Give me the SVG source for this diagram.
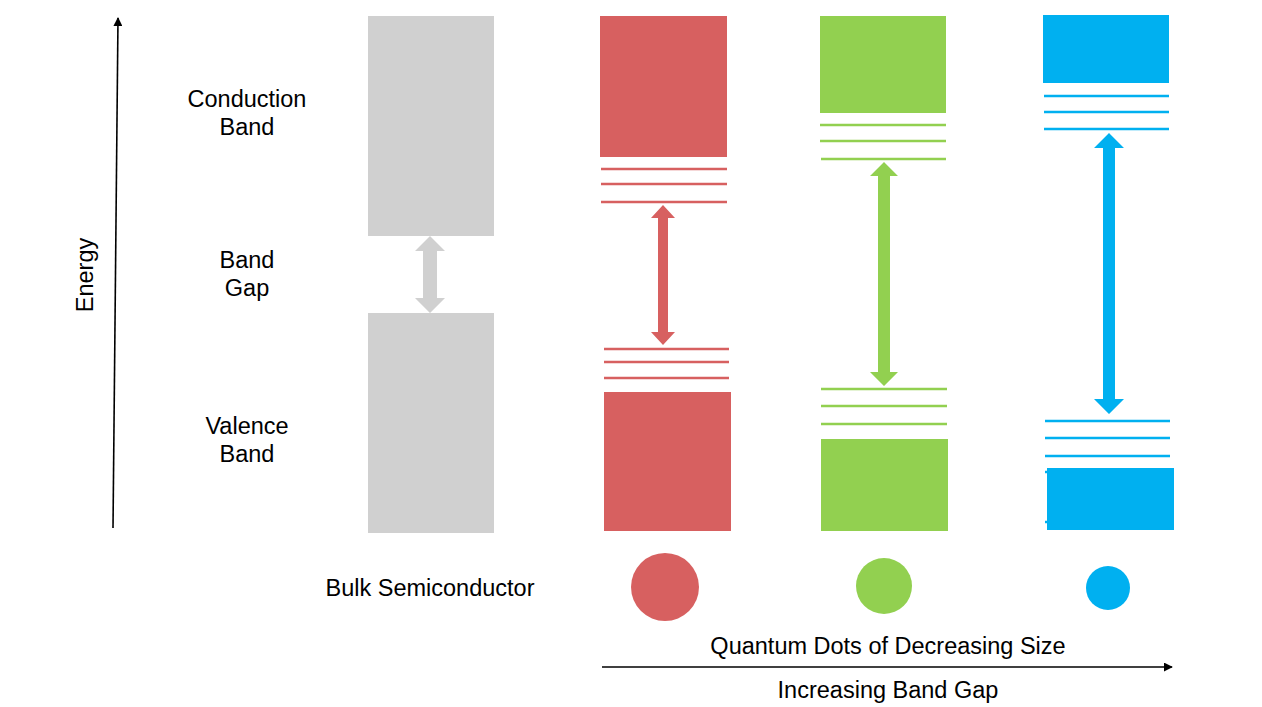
<svg xmlns="http://www.w3.org/2000/svg" width="1262" height="707" viewBox="0 0 1262 707">
<defs>
<marker id="ah" viewBox="0 0 10 10" refX="9" refY="5" markerWidth="9" markerHeight="9" markerUnits="userSpaceOnUse" orient="auto"><path d="M0,0 L10,5 L0,10 z" fill="#000"/></marker>
<style>
text{font-family:"Liberation Sans",Arial,sans-serif;font-size:23.5px;fill:#000;text-anchor:middle}
.red{fill:#d76060}.redl{stroke:#d76060;stroke-width:2.5}
.grn{fill:#92d050}.grnl{stroke:#92d050;stroke-width:2.5}
.blu{fill:#00b0f0}.blul{stroke:#00b0f0;stroke-width:2.5}
.gry{fill:#d0d0d0}
.ax{stroke:#000;stroke-width:1.6;fill:none}
</style>
</defs>
<rect width="1262" height="707" fill="#fff"/>
<g id="labels">
<text x="247" y="107">Conduction</text>
<text x="247" y="135">Band</text>
<text x="247" y="268">Band</text>
<text x="247" y="296">Gap</text>
<text x="247" y="434">Valence</text>
<text x="247" y="462">Band</text>
<text transform="translate(93,275) rotate(-90)">Energy</text>
<text x="430" y="596">Bulk Semiconductor</text>
<text x="888" y="654">Quantum Dots of Decreasing Size</text>
<text x="888" y="698">Increasing Band Gap</text>
</g>
<g id="bulk">
<rect class="gry" x="368" y="16" width="126" height="220"/>
<rect class="gry" x="368" y="313" width="126" height="220"/>
<polygon class="gry" points="430,236 445,251 437,251 437,298 445,298 430,313 415,298 423,298 423,251 415,251"/>
</g>
<g id="qd-red">
<rect class="red" x="600" y="16" width="127" height="141"/>
<line class="redl" x1="601" y1="169" x2="727" y2="169"/>
<line class="redl" x1="601" y1="184" x2="727" y2="184"/>
<line class="redl" x1="601" y1="202" x2="727" y2="202"/>
<polygon class="red" points="663,205 675,218 668,218 668,332 675,332 663,345 651,332 658,332 658,218 651,218"/>
<line class="redl" x1="604" y1="349" x2="729" y2="349"/>
<line class="redl" x1="604" y1="362" x2="729" y2="362"/>
<line class="redl" x1="604" y1="378" x2="729" y2="378"/>
<rect class="red" x="604" y="392" width="127" height="139"/>
<circle class="red" cx="665" cy="587" r="34"/>
</g>
<g id="qd-green">
<rect class="grn" x="820" y="16" width="126" height="97"/>
<line class="grnl" x1="820" y1="125" x2="946" y2="125"/>
<line class="grnl" x1="820" y1="141" x2="946" y2="141"/>
<line class="grnl" x1="821" y1="159" x2="946" y2="159"/>
<polygon class="grn" points="884,162 898,176 890,176 890,372 898,372 884,386 870,372 878,372 878,176 870,176"/>
<line class="grnl" x1="821" y1="389" x2="947" y2="389"/>
<line class="grnl" x1="821" y1="406" x2="947" y2="406"/>
<line class="grnl" x1="821" y1="424" x2="947" y2="424"/>
<rect class="grn" x="821" y="439" width="127" height="92"/>
<circle class="grn" cx="884" cy="586" r="28"/>
</g>
<g id="qd-blue">
<rect class="blu" x="1043" y="15" width="126" height="68"/>
<line class="blul" x1="1044" y1="96" x2="1169" y2="96"/>
<line class="blul" x1="1044" y1="112" x2="1169" y2="112"/>
<line class="blul" x1="1044" y1="129" x2="1169" y2="129"/>
<polygon class="blu" points="1109,133 1124,148 1115,148 1115,399 1124,399 1109,414 1094,399 1103,399 1103,148 1094,148"/>
<line class="blul" x1="1045" y1="421" x2="1170" y2="421"/>
<line class="blul" x1="1045" y1="438" x2="1170" y2="438"/>
<line class="blul" x1="1045" y1="456" x2="1170" y2="456"/>
<rect class="blu" x="1047" y="468" width="127" height="62"/>
<line class="blul" x1="1045" y1="472" x2="1048" y2="472"/>
<line class="blul" x1="1045" y1="522" x2="1048" y2="522"/>
<circle class="blu" cx="1108" cy="588" r="22"/>
</g>
<g id="connectors">
<line class="ax" x1="113" y1="528" x2="118" y2="18" marker-end="url(#ah)"/>
<line class="ax" x1="602" y1="667" x2="1172" y2="667" marker-end="url(#ah)"/>
</g>
</svg>
